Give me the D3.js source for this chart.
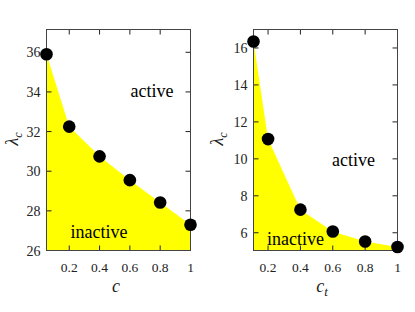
<!DOCTYPE html>
<html>
<head>
<meta charset="utf-8">
<script src="https://cdn.jsdelivr.net/npm/d3@7"></script>
<style>
  body { margin: 0; background: #fff; }
</style>
</head>
<body>
<script>
// left panel: lambda_c vs c
var cVals = [0.05, 0.2, 0.4, 0.6, 0.8, 1];
var lamLeft = [35.9, 32.25, 30.75, 29.55, 28.42, 27.3];
var leftXTicks = [0.2, 0.4, 0.6, 0.8, 1];
var leftYTicks = [26, 28, 30, 32, 34, 36];

// right panel: lambda_c vs c_t
var ctVals = [0.11, 0.2, 0.4, 0.6, 0.8, 1];
var lamRight = [16.35, 11.07, 7.25, 6.07, 5.53, 5.23];
var rightXTicks = [0.2, 0.4, 0.6, 0.8, 1];
var rightYTicks = [6, 8, 10, 12, 14, 16];

var svg = d3.select("body").append("svg")
    .attr("width", 415)
    .attr("height", 312)
    .attr("font-family", "'Liberation Serif', 'Times New Roman', Times, serif");

function panel(opt) {
  var x = d3.scaleLinear().domain(opt.xDom).range([opt.left, opt.right]);
  var y = d3.scaleLinear().domain(opt.yDom).range([opt.bottom, opt.top]);
  var g = svg.append("g");
  var pts = opt.xs.map(function(d, i){ return [d, opt.ys[i]]; });

  // yellow region under the boundary
  var area = d3.area()
      .x(function(d){ return x(d[0]); })
      .y0(opt.bottom)
      .y1(function(d){ return y(d[1]); });
  g.append("path").attr("d", area(pts)).attr("fill", "#ffff00");

  // ticks (inward, mirrored on all sides)
  var tk = 5;
  opt.xTicks.forEach(function(t){
    g.append("line").attr("x1", x(t)).attr("x2", x(t)).attr("y1", opt.bottom).attr("y2", opt.bottom - tk)
      .attr("stroke", "#222");
    g.append("line").attr("x1", x(t)).attr("x2", x(t)).attr("y1", opt.top).attr("y2", opt.top + tk)
      .attr("stroke", "#222");
    g.append("text").attr("x", x(t)).attr("y", opt.bottom + 21)
      .attr("text-anchor", "middle").attr("font-size", 13.5).attr("fill", "#222")
      .text(d3.format("~g")(t));
  });
  opt.yTicks.forEach(function(t){
    g.append("line").attr("x1", opt.left).attr("x2", opt.left + tk).attr("y1", y(t)).attr("y2", y(t))
      .attr("stroke", "#222");
    g.append("line").attr("x1", opt.right).attr("x2", opt.right - tk).attr("y1", y(t)).attr("y2", y(t))
      .attr("stroke", "#222");
    g.append("text").attr("x", opt.left - 6).attr("y", y(t) + 5)
      .attr("text-anchor", "end").attr("font-size", 14).attr("fill", "#222").text(t);
  });

  g.append("rect").attr("x", opt.left).attr("y", opt.top)
    .attr("width", opt.right - opt.left).attr("height", opt.bottom - opt.top)
    .attr("fill", "none").attr("stroke", "#444").attr("stroke-width", 1);

  g.selectAll("circle").data(pts).enter().append("circle")
    .attr("cx", function(d){ return x(d[0]); })
    .attr("cy", function(d){ return y(d[1]); })
    .attr("r", 6.3).attr("fill", "#000");

  g.append("text").attr("x", opt.activeAt[0]).attr("y", opt.activeAt[1])
    .attr("font-size", 18).attr("fill", "#000").text("active");
  g.append("text").attr("x", opt.inactiveAt[0]).attr("y", opt.inactiveAt[1])
    .attr("font-size", 18).attr("fill", "#000").text("inactive");

  // axis labels
  var xl = g.append("text").attr("x", opt.xLabelX).attr("y", 292)
    .attr("text-anchor", "middle").attr("font-size", 18).attr("font-style", "italic").attr("fill", "#222");
  xl.append("tspan").text("c");
  if (opt.xSub) xl.append("tspan").attr("dy", 4).attr("font-size", 13).text(opt.xSub);

  var yl = g.append("text")
    .attr("transform", "translate(" + opt.yLabelX + ",139) rotate(-90)")
    .attr("text-anchor", "middle").attr("font-size", 18).attr("font-style", "italic").attr("fill", "#222");
  yl.append("tspan").text("λ");
  yl.append("tspan").attr("dy", 4).attr("font-size", 12).text("c");
}

panel({
  xs: cVals, ys: lamLeft, xTicks: leftXTicks, yTicks: leftYTicks,
  xDom: [0.05, 1], yDom: [26, 37.15],
  left: 46.5, right: 190.5, top: 29.5, bottom: 250.5,
  activeAt: [130.5, 97], inactiveAt: [70.5, 238],
  xLabelX: 116, xSub: null, yLabelX: 18
});

panel({
  xs: ctVals, ys: lamRight, xTicks: rightXTicks, yTicks: rightYTicks,
  xDom: [0.11, 1], yDom: [5.04, 17],
  left: 253.5, right: 397.5, top: 29.5, bottom: 250.5,
  activeAt: [332, 166], inactiveAt: [267, 245],
  xLabelX: 322, xSub: "t", yLabelX: 223
});
</script>
</body>
</html>
